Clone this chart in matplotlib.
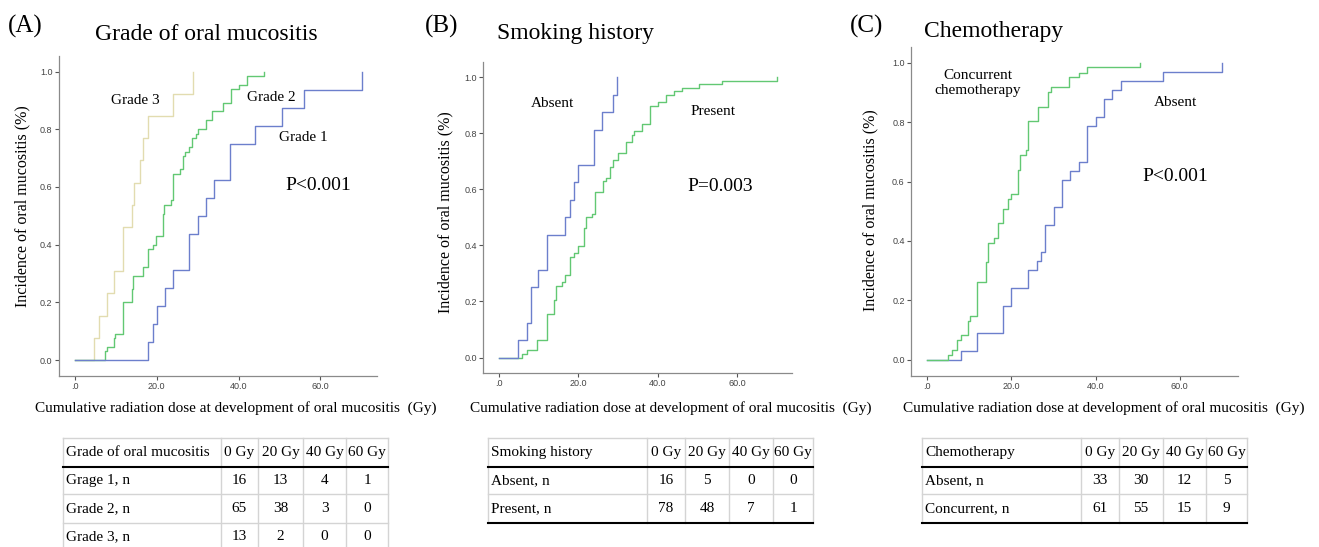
import matplotlib
matplotlib.use("Agg")
import matplotlib.pyplot as plt

plt.rcParams["font.family"] = ["Liberation Serif", "DejaVu Serif"]

# colours used by the SPSS-style plots
BLUE = "#6c7fcc"
GREEN = "#62c873"
BEIGE = "#e2dcb0"

# (A) grade of oral mucositis
g1_dose = [0, 18.0, 19.1, 20.0, 22.0, 24.0, 28.0, 30.0, 32.0, 34.0, 38.0, 44.1, 50.5, 56.0, 70.1]
g1_inc = [0, 0.0625, 0.125, 0.1875, 0.25, 0.3125, 0.4375, 0.5, 0.5625, 0.625, 0.75, 0.8125, 0.875, 0.9375, 1.0]
g2_dose = [0, 7.3, 8.0, 9.6, 9.9, 11.9, 14.1, 14.3, 16.8, 17.8, 19.2, 19.9, 21.5, 21.9, 23.5, 24.0,
           25.8, 26.4, 27.0, 27.9, 28.7, 29.6, 30.0, 32.0, 33.6, 36.1, 38.1, 40.0, 42.0, 46.1]
g2_inc = [0, 0.031, 0.046, 0.077, 0.092, 0.2, 0.246, 0.292, 0.323, 0.385, 0.4, 0.431, 0.508, 0.538, 0.554, 0.646,
          0.662, 0.708, 0.723, 0.738, 0.769, 0.785, 0.8, 0.831, 0.862, 0.892, 0.938, 0.954, 0.985, 1.0]
g3_dose = [0, 4.8, 6.0, 8.0, 9.6, 11.9, 14.1, 14.5, 16.0, 16.6, 18.0, 24.0, 28.8]
g3_inc = [0, 0.077, 0.154, 0.231, 0.308, 0.462, 0.538, 0.615, 0.692, 0.769, 0.846, 0.923, 1.0]

# (B) smoking history
smk_abs_dose = [0, 4.7, 7.2, 8.0, 9.9, 12.0, 16.7, 17.9, 19.0, 19.8, 23.9, 25.9, 28.7, 29.7]
smk_abs_inc = [0, 0.0625, 0.125, 0.25, 0.3125, 0.4375, 0.5, 0.5625, 0.625, 0.6875, 0.8125, 0.875, 0.9375, 1.0]
smk_pre_dose = [0, 5.9, 7.0, 9.5, 12.0, 14.0, 14.4, 16.0, 16.6, 17.9, 19.0, 19.8, 21.5, 22.0, 23.5, 24.1,
                26.3, 26.9, 28.0, 28.7, 30.0, 32.0, 33.6, 34.1, 36.1, 38.1, 40.1, 42.0, 44.1, 46.1, 50.4, 56.1, 70.0]
smk_pre_inc = [0, 0.013, 0.026, 0.064, 0.154, 0.205, 0.256, 0.269, 0.295, 0.359, 0.372, 0.397, 0.462, 0.5, 0.513, 0.59,
               0.628, 0.641, 0.679, 0.705, 0.731, 0.769, 0.795, 0.808, 0.833, 0.897, 0.91, 0.936, 0.949, 0.962, 0.974, 0.987, 1.0]

# (C) chemotherapy
cc_dose = [0, 4.8, 5.9, 7.1, 7.9, 9.6, 10.1, 11.9, 13.9, 14.4, 15.9, 16.7, 17.9, 19.1, 20.0, 21.5, 22.0,
           23.4, 24.0, 26.4, 28.8, 29.4, 33.7, 36.1, 38.0, 50.6]
cc_inc = [0, 0.016, 0.033, 0.066, 0.082, 0.131, 0.148, 0.262, 0.328, 0.393, 0.41, 0.459, 0.508, 0.541, 0.557, 0.639, 0.689,
          0.705, 0.803, 0.852, 0.902, 0.918, 0.951, 0.967, 0.984, 1.0]
ch_abs_dose = [0, 7.9, 11.9, 17.9, 20.0, 24.0, 26.0, 26.9, 28.0, 30.0, 32.1, 34.0, 36.0, 38.0, 40.1, 42.1, 44.0, 46.0, 56.1, 70.1]
ch_abs_inc = [0, 0.03, 0.091, 0.182, 0.242, 0.303, 0.333, 0.364, 0.455, 0.515, 0.606, 0.636, 0.667, 0.788, 0.818,
              0.879, 0.909, 0.939, 0.97, 1.0]

# number-at-risk tables
tab_cols = ["0 Gy", "20 Gy", "40 Gy", "60 Gy"]
tabA_head = "Grade of oral mucositis"
tabA_rows = ["Grage 1, n", "Grade 2, n", "Grade 3, n"]
tabA_vals = [[16, 13, 4, 1], [65, 38, 3, 0], [13, 2, 0, 0]]
tabB_head = "Smoking history"
tabB_rows = ["Absent, n", "Present, n"]
tabB_vals = [[16, 5, 0, 0], [78, 48, 7, 1]]
tabC_head = "Chemotherapy"
tabC_rows = ["Absent, n", "Concurrent, n"]
tabC_vals = [[33, 30, 12, 5], [61, 55, 15, 9]]

W, H = 1319, 547
fig = plt.figure(figsize=(W / 100, H / 100), dpi=100)


def px_axes(left, top, right, bottom):
    return fig.add_axes([left / W, 1 - bottom / H, (right - left) / W, (bottom - top) / H])


def km_axes(box):
    ax = px_axes(*box)
    ax.set_xlim(-3.9, 73.8)
    ax.set_ylim(-0.054, 1.054)
    ax.set_xticks([0, 20, 40, 60])
    ax.set_xticklabels([".0", "20.0", "40.0", "60.0"])
    ax.set_yticks([0, 0.2, 0.4, 0.6, 0.8, 1.0])
    ax.set_yticklabels(["0.0", "0.2", "0.4", "0.6", "0.8", "1.0"])
    for s in ["top", "right"]:
        ax.spines[s].set_visible(False)
    for s in ["left", "bottom"]:
        ax.spines[s].set_color("#8a8a8a")
        ax.spines[s].set_linewidth(0.9)
    ax.tick_params(length=3, width=0.8, color="#555555", labelsize=6.5, labelcolor="#444444", pad=1.5)
    for lab in ax.get_xticklabels() + ax.get_yticklabels():
        lab.set_family("Liberation Sans")
    return ax


lw = 1.0
fs_lab = 11
fs_p = 14

# panel A
axA = km_axes((58.7, 56, 377, 375.7))
axA.step(g3_dose, g3_inc, where="post", color=BEIGE, lw=lw)
axA.step(g2_dose, g2_inc, where="post", color=GREEN, lw=lw)
axA.step(g1_dose, g1_inc, where="post", color=BLUE, lw=lw)
axA.text(14.9, 0.90, "Grade 3", fontsize=fs_lab, ha="center", va="center")
axA.text(48.0, 0.911, "Grade 2", fontsize=fs_lab, ha="center", va="center")
axA.text(55.7, 0.771, "Grade 1", fontsize=fs_lab, ha="center", va="center")
axA.text(59.5, 0.605, "P<0.001", fontsize=fs_p, ha="center", va="center")

# panel B
axB = km_axes((483.3, 62, 792.3, 372.7))
axB.step(smk_pre_dose, smk_pre_inc, where="post", color=GREEN, lw=lw)
axB.step(smk_abs_dose, smk_abs_inc, where="post", color=BLUE, lw=lw)
axB.text(13.6, 0.906, "Absent", fontsize=fs_lab, ha="center", va="center")
axB.text(53.9, 0.879, "Present", fontsize=fs_lab, ha="center", va="center")
axB.text(55.6, 0.609, "P=0.003", fontsize=fs_p, ha="center", va="center")

# panel C
axC = km_axes((911, 46.7, 1237.7, 375.7))
axC.step(ch_abs_dose, ch_abs_inc, where="post", color=BLUE, lw=lw)
axC.step(cc_dose, cc_inc, where="post", color=GREEN, lw=lw)
axC.text(11.9, 0.931, "Concurrent\nchemotherapy", fontsize=fs_lab, ha="center", va="center", linespacing=1.2)
axC.text(58.9, 0.867, "Absent", fontsize=fs_lab, ha="center", va="center")
axC.text(59.0, 0.616, "P<0.001", fontsize=fs_p, ha="center", va="center")

# overlay in pixel coords for labels and tables
ov = fig.add_axes([0, 0, 1, 1])
ov.set_xlim(0, W)
ov.set_ylim(H, 0)
ov.axis("off")

for lab, x in [("(A)", 8), ("(B)", 425), ("(C)", 850)]:
    ov.text(x, 26, lab, fontsize=18, ha="left", va="center")
ov.text(95, 34, "Grade of oral mucositis", fontsize=17, ha="left", va="center")
ov.text(497, 34, "Smoking history", fontsize=17, ha="left", va="center")
ov.text(924, 31, "Chemotherapy", fontsize=17, ha="left", va="center")

ylab = "Incidence of oral mucositis (%)"
for x, y in [(22, 206), (445, 212), (870, 210)]:
    ov.text(x, y, ylab, fontsize=11.5, rotation=90, ha="center", va="center")
xlab = "Cumulative radiation dose at development of oral mucositis  (Gy)"
for x in [236, 671, 1104]:
    ov.text(x, 408, xlab, fontsize=11, ha="center", va="center")


def draw_table(edges, head, rows, vals, bottom_rule):
    rule_y = [438, 467, 494, 523, 551]
    top, hb = rule_y[0], rule_y[1]
    nrows = len(rows)
    bot = rule_y[1 + nrows] if bottom_rule else H + 5
    grey = "#d4d4d4"
    for x in edges:
        ov.plot([x, x], [top, bot], color=grey, lw=1.0)
    ov.plot([edges[0], edges[-1]], [top, top], color=grey, lw=1.0)
    for i in range(1, nrows):
        y = rule_y[1 + i]
        ov.plot([edges[0], edges[-1]], [y, y], color=grey, lw=1.0)
    ov.plot([edges[0], edges[-1]], [hb, hb], color="black", lw=1.5)
    if bottom_rule:
        ov.plot([edges[0], edges[-1]], [bot, bot], color="black", lw=1.5)
    centers = [(rule_y[i] + rule_y[i + 1]) / 2 for i in range(4)]
    fs = 11
    ov.text(edges[0] + 3, centers[0], head, fontsize=fs, ha="left", va="center")
    for j, c in enumerate(tab_cols):
        ov.text((edges[j + 1] + edges[j + 2]) / 2, centers[0], c, fontsize=fs, ha="center", va="center")
    for i, r in enumerate(rows):
        ov.text(edges[0] + 3, centers[i + 1], r, fontsize=fs, ha="left", va="center")
        for j, v in enumerate(vals[i]):
            ov.text((edges[j + 1] + edges[j + 2]) / 2, centers[i + 1], str(v), fontsize=fs, ha="center", va="center")


draw_table([63, 221, 258, 303, 346, 388], tabA_head, tabA_rows, tabA_vals, False)
draw_table([488, 647, 685, 729, 773, 813], tabB_head, tabB_rows, tabB_vals, True)
draw_table([922, 1081, 1119, 1163, 1206, 1247], tabC_head, tabC_rows, tabC_vals, True)

fig.savefig("out.png", dpi=100)
